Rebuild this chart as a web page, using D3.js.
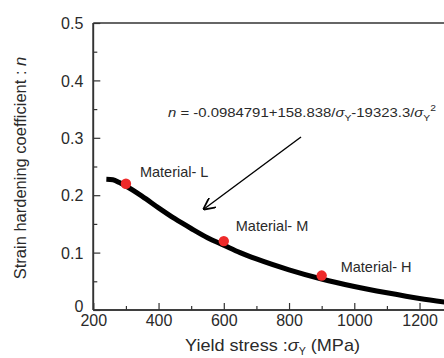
<!DOCTYPE html>
<html><head><meta charset="utf-8">
<script src="https://cdn.jsdelivr.net/npm/d3@7"></script>
<style>
html,body{margin:0;padding:0;background:#fff;}
svg{display:block;font-family:"Liberation Sans",Arial,Helvetica,sans-serif;}
</style></head>
<body><svg id="c" width="444" height="358"></svg>
<script>
// Curve: yield stress (MPa) vs strain hardening coefficient n
const curveStress = [240, 260, 280, 300, 350, 400, 450, 500, 550, 600, 650, 700, 800, 900, 1000, 1100, 1200, 1300];
const curveN      = [0.228, 0.227, 0.222, 0.216, 0.198, 0.178, 0.159, 0.142, 0.126, 0.113, 0.100, 0.089, 0.070, 0.054, 0.041, 0.030, 0.020, 0.012];
// Materials
const materials = ["Material- L", "Material- M", "Material- H"];
const matStress = [300, 600, 900];
const matN      = [0.22, 0.12, 0.06];
// Ticks
const xTicks = [200, 400, 600, 800, 1000, 1200];
const xMinor = [300, 500, 700, 900, 1100];
const yTicks = [0, 0.1, 0.2, 0.3, 0.4, 0.5];
const yTickLabels = ["0", "0.1", "0.2", "0.3", "0.4", "0.5"];
const yMinor = [0.05, 0.15, 0.25, 0.35, 0.45];

const svg = d3.select("#c");
const x = d3.scaleLinear().domain([200, 1275]).range([93.3, 444]);
const y = d3.scaleLinear().domain([0, 0.5]).range([310, 23]);
const axisColor = "#333";
const textColor = "#2a2a2a";

// top frame line
svg.append("line").attr("x1", x(200)).attr("x2", 444).attr("y1", y(0.5)).attr("y2", y(0.5))
  .attr("stroke", axisColor).attr("stroke-width", 1.6);

const gx = svg.append("g").attr("transform", `translate(0,${y(0)})`);
gx.call(d3.axisBottom(x).tickValues(xMinor).tickSize(-4).tickFormat(""));
const gx2 = svg.append("g").attr("transform", `translate(0,${y(0)})`);
gx2.call(d3.axisBottom(x).tickValues(xTicks).tickSize(-7).tickPadding(5).tickFormat(d3.format("d")));
const gy = svg.append("g").attr("transform", `translate(${x(200)},0)`);
gy.call(d3.axisLeft(y).tickValues(yMinor).tickSize(-4).tickFormat(""));
const gy2 = svg.append("g").attr("transform", `translate(${x(200)},0)`);
gy2.call(d3.axisLeft(y).tickValues(yTicks).tickSize(-7).tickPadding(10).tickFormat((d, i) => yTickLabels[i]));

[gx, gx2, gy, gy2].forEach(g => {
  g.select(".domain").attr("stroke", axisColor).attr("stroke-width", 1.6);
  g.selectAll(".tick line").attr("stroke", axisColor).attr("stroke-width", 1.2);
  g.selectAll(".tick text").attr("fill", textColor).style("font-size", "16px").style("font-family", '"Liberation Sans",Arial,sans-serif');
});
gx.select(".domain").attr("d", `M${x(200)},0H444`);
gx2.select(".domain").attr("d", `M${x(200)},0H444`);
gy.select(".domain").attr("d", `M0,${y(0)}V${y(0.5)}`);
gy2.select(".domain").attr("d", `M0,${y(0)}V${y(0.5)}`);
gy2.selectAll(".tick text").attr("dy", d => d === 0 ? "0.1em" : "0.36em");

// clip
svg.append("clipPath").attr("id", "clip").append("rect")
  .attr("x", x(200)).attr("y", 0).attr("width", 444 - x(200)).attr("height", y(0) + 5);

// curve
const pts = curveStress.map((s, i) => [s, curveN[i]]);
svg.append("path").datum(pts).attr("clip-path", "url(#clip)")
  .attr("d", d3.line().x(d => x(d[0])).y(d => y(d[1])).curve(d3.curveMonotoneX))
  .attr("fill", "none").attr("stroke", "#000").attr("stroke-width", 5);

// material points
svg.selectAll("circle.m").data(matStress).enter().append("circle")
  .attr("cx", d => x(d)).attr("cy", (d, i) => y(matN[i])).attr("r", 5.2).attr("fill", "#ee2a2a");

const labOff = [[14, -7], [12, -10], [19, -4]];
svg.selectAll("text.m").data(materials).enter().append("text")
  .attr("x", (d, i) => x(matStress[i]) + labOff[i][0])
  .attr("y", (d, i) => y(matN[i]) + labOff[i][1])
  .attr("fill", textColor).style("font-size", "14.5px").text(d => d);

// arrow
const defs = svg.append("defs");
defs.append("marker").attr("id", "ah").attr("viewBox", "0 0 10 10").attr("refX", 9).attr("refY", 5)
  .attr("markerWidth", 12).attr("markerHeight", 12).attr("markerUnits", "userSpaceOnUse").attr("orient", "auto")
  .append("path").attr("d", "M0,0L10,5L0,10").attr("fill", "none").attr("stroke", "#000").attr("stroke-width", 1.5);
svg.append("line").attr("x1", 301).attr("y1", 137).attr("x2", 204).attr("y2", 209)
  .attr("stroke", "#000").attr("stroke-width", 1.4).attr("marker-end", "url(#ah)");

// equation
const eq = svg.append("text").attr("x", 168).attr("y", 117).attr("fill", textColor).style("font-size", "13px")
  .attr("textLength", 268).attr("lengthAdjust", "spacingAndGlyphs");
eq.append("tspan").style("font-style", "italic").text("n");
eq.append("tspan").text(" = -0.0984791+158.838/");
eq.append("tspan").style("font-style", "italic").text("σ");
eq.append("tspan").attr("dy", 4).style("font-size", "9px").text("Y");
eq.append("tspan").attr("dy", -4).text("-19323.3/");
eq.append("tspan").style("font-style", "italic").text("σ");
eq.append("tspan").attr("dy", 4).style("font-size", "9px").text("Y");
eq.append("tspan").attr("dy", -10).style("font-size", "9px").text("2");

// axis titles
const xt = svg.append("text").attr("x", 185).attr("y", 351).attr("fill", textColor).style("font-size", "17px")
  .attr("textLength", 175).attr("lengthAdjust", "spacingAndGlyphs");
xt.append("tspan").text("Yield stress :");
xt.append("tspan").style("font-style", "italic").text("σ");
xt.append("tspan").attr("dy", 4).style("font-size", "10px").text("Y");
xt.append("tspan").attr("dy", -4).text(" (MPa)");

const yt = svg.append("text").attr("transform", "translate(26,168) rotate(-90)").attr("text-anchor", "middle")
  .attr("fill", textColor).style("font-size", "16.5px");
yt.append("tspan").text("Strain hardening coefficient : ");
yt.append("tspan").style("font-style", "italic").text("n");
</script></body></html>
